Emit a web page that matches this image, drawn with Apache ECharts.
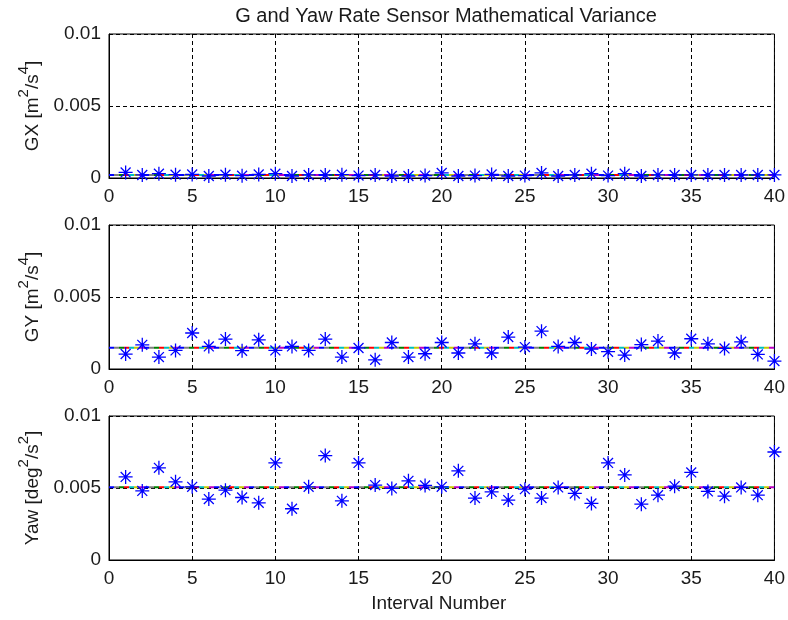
<!DOCTYPE html>
<html>
<head>
<meta charset="utf-8">
<script src="https://cdn.jsdelivr.net/npm/echarts@6.0.0/dist/echarts.min.js"></script>
<style>
  html, body { margin: 0; padding: 0; background: #ffffff; }
  #chart { width: 788px; height: 620px; }
</style>
</head>
<body>
<div id="chart"></div>
<script>
// Interval numbers on the shared x axis
const intervals = [1, 2, 3, 4, 5, 6, 7, 8, 9, 10, 11, 12, 13, 14, 15, 16, 17, 18, 19, 20,
                   21, 22, 23, 24, 25, 26, 27, 28, 29, 30, 31, 32, 33, 34, 35, 36, 37, 38, 39, 40];

// Variance of the longitudinal acceleration per interval [m^2/s^4]
const gxVariance = [0.00039, 0.00021, 0.00030, 0.00023, 0.00025, 0.00014, 0.00023, 0.00016, 0.00025, 0.00030,
                    0.00014, 0.00021, 0.00021, 0.00023, 0.00017, 0.00021, 0.00014, 0.00014, 0.00017, 0.00035,
                    0.00014, 0.00017, 0.00025, 0.00014, 0.00017, 0.00035, 0.00014, 0.00021, 0.00030, 0.00017,
                    0.00030, 0.00014, 0.00021, 0.00021, 0.00021, 0.00021, 0.00021, 0.00021, 0.00021, 0.00021];

// Variance of the lateral acceleration per interval [m^2/s^4]
const gyVariance = [0.00104, 0.00168, 0.00083, 0.00129, 0.00250, 0.00157, 0.00208, 0.00127, 0.00203, 0.00129,
                    0.00157, 0.00129, 0.00208, 0.00083, 0.00146, 0.00064, 0.00184, 0.00083, 0.00106, 0.00184,
                    0.00111, 0.00175, 0.00111, 0.00222, 0.00152, 0.00263, 0.00157, 0.00184, 0.00139, 0.00120,
                    0.00097, 0.00170, 0.00194, 0.00111, 0.00210, 0.00175, 0.00143, 0.00189, 0.00101, 0.00055];

// Variance of the yaw rate per interval [deg^2/s^2]
const yawVariance = [0.00577, 0.00480, 0.00640, 0.00543, 0.00508, 0.00423, 0.00485, 0.00434, 0.00397, 0.00674,
                     0.00356, 0.00508, 0.00725, 0.00411, 0.00674, 0.00520, 0.00497, 0.00550, 0.00518, 0.00508,
                     0.00619, 0.00430, 0.00473, 0.00416, 0.00492, 0.00430, 0.00504, 0.00462, 0.00393, 0.00674,
                     0.00591, 0.00388, 0.00450, 0.00513, 0.00608, 0.00476, 0.00443, 0.00504, 0.00450, 0.00750];

// Reference (mean) level drawn across each panel
const meanLevels = [0.00021, 0.00148, 0.00506];

// Axis ticks
const xTicks = { min: 0, max: 40, step: 5 };
const yTicks = { min: 0, max: 0.01, step: 0.005 };

const panelNames = [
  '{a|GX [m}{s|2}{a|/s}{s|4}{a|]}',
  '{a|GY [m}{s|2}{a|/s}{s|4}{a|]}',
  '{a|Yaw [deg}{s|2}{a|/s}{s|2}{a|]}'
];
const panelValues = [gxVariance, gyVariance, yawVariance];

const FONT = '"Liberation Sans", Arial, Helvetica, sans-serif';
const TEXT = '#1a1a1a';

// MATLAB-like "*" marker: plus and cross bars plus a small centre block
const STAR = 'path://' +
  'M0 10.9L24 10.9L24 13.1L0 13.1Z' +
  'M13.1 0L13.1 24L10.9 24L10.9 0Z' +
  'M4.28 2.72L21.28 19.72L19.72 21.28L2.72 4.28Z' +
  'M19.72 2.72L21.28 4.28L4.28 21.28L2.72 19.72Z' +
  'M9.8 9.8L14.2 9.8L14.2 14.2L9.8 14.2Z';

// Colours cycled along the reference level line
const levelColours = ['#0000ff', '#bf00bf', '#c8c800', '#00bfbf', '#ff0000', '#008000', '#7f7f7f'];

const panelTops = [34, 225, 416];
const grids = [], xAxes = [], yAxes = [], series = [];

panelTops.forEach((top, i) => {
  grids.push({
    left: 109, right: 12, top: top, height: 144,
    show: true, borderColor: '#000', borderWidth: 1, containLabel: false
  });
  xAxes.push({
    type: 'value', gridIndex: i,
    min: xTicks.min, max: xTicks.max, interval: xTicks.step,
    name: i === 2 ? 'Interval Number' : '',
    nameLocation: 'middle', nameGap: 44,
    nameTextStyle: { fontSize: 19, fontFamily: FONT, color: TEXT, verticalAlign: 'middle', padding: [0, 6, 0, 0] },
    axisLine: { show: true, onZero: false, lineStyle: { color: '#000', width: 1 } },
    axisTick: { show: true, inside: true, length: 4, lineStyle: { color: '#000' } },
    axisLabel: { fontSize: 19, fontFamily: FONT, color: TEXT, margin: 9 },
    splitLine: { show: true, lineStyle: { color: '#000', width: 1, type: [4, 3] } }
  });
  yAxes.push({
    type: 'value', gridIndex: i,
    min: yTicks.min, max: yTicks.max, interval: yTicks.step,
    name: panelNames[i],
    nameLocation: 'middle', nameGap: 77, nameRotate: 90,
    nameTextStyle: {
      verticalAlign: 'middle',
      rich: {
        a: { fontSize: 19, fontFamily: FONT, color: TEXT, lineHeight: 26, verticalAlign: 'bottom' },
        s: { fontSize: 15, fontFamily: FONT, color: TEXT, lineHeight: 6, verticalAlign: 'top' }
      }
    },
    axisLine: { show: true, lineStyle: { color: '#000', width: 1 } },
    axisTick: { show: true, inside: true, length: 4, lineStyle: { color: '#000' } },
    axisLabel: {
      fontSize: 19, fontFamily: FONT, color: TEXT, margin: 8,
      formatter: v => (Math.abs(v) < 1e-12 ? '0' : String(+v.toFixed(3)))
    },
    splitLine: { show: true, lineStyle: { color: '#000', width: 1, type: [4, 3] } }
  });

  // Multi-coloured dashed reference level
  levelColours.forEach((c, k) => {
    series.push({
      type: 'line', xAxisIndex: i, yAxisIndex: i,
      data: [[xTicks.min, meanLevels[i]], [xTicks.max, meanLevels[i]]],
      symbol: 'none', silent: true, animation: false, z: 3,
      lineStyle: { color: c, width: 2, type: [5, 30], dashOffset: k * 5 }
    });
  });

  series.push({
    type: 'scatter', xAxisIndex: i, yAxisIndex: i,
    data: intervals.map((x, j) => [x, panelValues[i][j]]),
    symbol: STAR, symbolSize: 14,
    itemStyle: { color: '#0000ff', opacity: 1 },
    animation: false, z: 5, clip: false
  });
});

const chart = echarts.init(document.getElementById('chart'), null, { renderer: 'canvas' });
chart.setOption({
  backgroundColor: '#ffffff',
  animation: false,
  title: {
    text: 'G and Yaw Rate Sensor Mathematical Variance',
    left: 441, top: 1, textAlign: 'center',
    textStyle: { fontSize: 20, fontWeight: 'normal', fontFamily: FONT, color: TEXT }
  },
  grid: grids,
  xAxis: xAxes,
  yAxis: yAxes,
  series: series
});
</script>
</body>
</html>
